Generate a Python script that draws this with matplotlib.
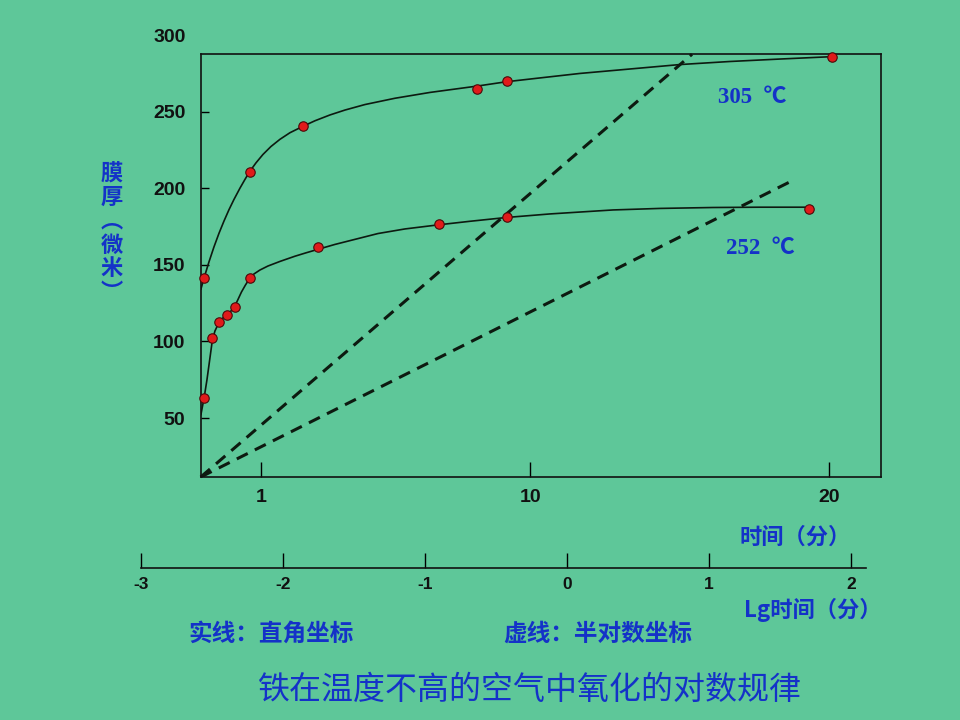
import matplotlib
matplotlib.use("Agg")
import matplotlib.pyplot as plt

BG = "#5ec799"
BLUE = "#1432c8"
INK = "#0d1a10"
CJK = ["Noto Sans CJK SC", "DejaVu Sans"]
NUM = ["Liberation Sans", "DejaVu Sans"]

plt.rcParams["font.family"] = CJK

# measured points: time (min) vs film thickness (um)
t305_pts = [-0.90, 0.62, 2.39, 8.21, 9.21, 20.10]
d305_pts = [141.6, 210.8, 240.6, 264.9, 270.0, 285.4]
t252_pts = [-0.90, -0.64, -0.41, -0.14, 0.11, 0.62, 2.90, 6.94, 9.21, 19.32]
d252_pts = [62.9, 102.4, 112.5, 117.2, 122.3, 141.6, 161.6, 176.4, 181.2, 186.2]

# hand-drawn fit curves, traced along the line on the slide
t305_curve = [-1.013, -0.903, -0.746, -0.579, -0.411, -0.244, -0.077, 0.090,
              0.291, 0.458, 0.615, 0.826, 1.060, 1.328, 1.629, 1.963, 2.388,
              2.799, 3.301, 3.803, 4.472, 5.475, 6.645, 8.207, 9.211, 10.157,
              11.662, 13.334, 15.007, 16.679, 18.351, 20.023]
d305_curve = [134.2, 141.8, 151.8, 161.6, 170.5, 178.5, 185.9, 192.6,
              200.0, 205.7, 210.8, 216.5, 222.0, 227.2, 231.9, 236.2, 240.3,
              244.0, 247.8, 251.0, 254.6, 258.7, 262.5, 266.6, 269.5, 271.6,
              274.9, 277.8, 280.7, 282.7, 284.3, 285.8]
t252_curve = [-1.013, -0.903, -0.813, -0.712, -0.635, -0.545, -0.411, -0.278,
              -0.144, -0.010, 0.114, 0.224, 0.341, 0.475, 0.615, 0.759, 0.960,
              1.227, 1.629, 2.130, 2.498, 2.900, 3.468, 4.137, 4.906, 5.809,
              6.936, 7.983, 9.211, 10.659, 12.766, 14.338, 16.110, 17.682, 19.187]
d252_curve = [52.3, 63.7, 74.8, 89.2, 100.3, 106.8, 112.3, 115.3,
              117.6, 119.8, 122.8, 127.3, 132.2, 136.8, 141.1, 144.0, 146.6,
              149.2, 152.2, 155.6, 157.8, 160.1, 163.3, 166.6, 170.4, 173.4,
              176.1, 178.4, 180.9, 183.2, 185.8, 186.8, 187.4, 187.6, 187.6]

# dashed lines (semi-log version, drawn on the same frame)
dash305_t = [-1.02, 15.41]
dash305_d = [11.5, 287.4]
dash252_t = [-1.02, 18.66]
dash252_d = [11.5, 203.9]

xticks = [1, 10, 20]
yticks = [50, 100, 150, 200, 250]
lg_ticks = [-3, -2, -1, 0, 1, 2]
lg_labels = ["-3", "-2", "-1", "0", "1", "2"]

fig = plt.figure(figsize=(9.6, 7.2), dpi=100, facecolor=BG)

ax = fig.add_axes([0.2091, 0.3375, 0.7086, 0.5871])
ax.set_facecolor(BG)
ax.set_xlim(-1.02, 21.73)
ax.set_ylim(11.5, 287.4)

ax.plot(t305_curve, d305_curve, color=INK, lw=1.2, solid_joinstyle="round")
ax.plot(t252_curve, d252_curve, color=INK, lw=1.2, solid_joinstyle="round")
ax.plot(dash305_t, dash305_d, color=INK, lw=2.2, ls=(0, (4, 2.6)), clip_on=False)
ax.plot(dash252_t, dash252_d, color=INK, lw=2.2, ls=(0, (4, 2.6)))
for tt, dd in [(t305_pts, d305_pts), (t252_pts, d252_pts)]:
    ax.plot(tt, dd, ls="none", marker="o", ms=6.8, mfc="#e01a1a",
            mec="#4a0a0a", mew=0.8, clip_on=False, zorder=5)

for sp in ax.spines.values():
    sp.set_color("#111111")
    sp.set_linewidth(1.2)

ax.set_xticks(xticks)
ax.set_xticklabels([str(v) for v in xticks])
ax.set_yticks(yticks)
ax.set_yticklabels([str(v) for v in yticks])
ax.tick_params(axis="x", direction="in", length=11, width=1.0, pad=9, labelsize=14)
ax.tick_params(axis="y", direction="in", length=6, width=1.0, pad=11, labelsize=14)
for lab in ax.get_xticklabels() + ax.get_yticklabels():
    lab.set_family(NUM)
    lab.set_weight("bold")
    lab.set_color("#111111")

# 300 sits above the frame on the slide
ax.annotate("300", xy=(0, 300), xycoords=ax.get_yaxis_transform(),
            xytext=(-11, -2), textcoords="offset points", ha="right", va="center",
            fontsize=14, fontweight="bold", family=NUM, color="#111111",
            annotation_clip=False)

serif = ["Liberation Serif", "Noto Sans CJK SC"]
ax.text(17.41, 258.9, "305  ℃", color=BLUE, fontsize=16.5, fontweight="bold",
        ha="center", va="center", family=serif)
ax.text(17.69, 160.9, "252  ℃", color=BLUE, fontsize=16.5, fontweight="bold",
        ha="center", va="center", family=serif)

# lower axis: lg time
ax2 = fig.add_axes([0.1466, 0.2107, 0.7555, 0.02])
ax2.set_facecolor("none")
ax2.set_xlim(-2.967, 2.105)
for name in ["top", "left", "right"]:
    ax2.spines[name].set_visible(False)
ax2.spines["bottom"].set_color("#111111")
ax2.spines["bottom"].set_linewidth(1.2)
ax2.set_yticks([])
ax2.set_xticks(lg_ticks)
ax2.set_xticklabels(lg_labels)
ax2.tick_params(axis="x", direction="in", length=11, width=1.0, pad=6, labelsize=12.5)
for lab in ax2.get_xticklabels():
    lab.set_family(NUM)
    lab.set_weight("bold")
    lab.set_color("#111111")

# labels
fig.text(0.1167, 0.676, "膜\n厚\n︵\n微\n米\n︶", color=BLUE, fontsize=16,
         ha="center", va="center", linespacing=1.04, fontweight="bold")
fig.text(0.828, 0.2542, "时间（分）", color=BLUE, fontsize=16, fontweight="bold",
         ha="center", va="center")
fig.text(0.847, 0.1528, "Lg时间（分）", color=BLUE, fontsize=16, fontweight="bold",
         ha="center", va="center")
fig.text(0.2828, 0.1194, "实线：直角坐标", color=BLUE, fontsize=17, fontweight="bold",
         ha="center", va="center")
fig.text(0.6229, 0.1194, "虚线：半对数坐标", color=BLUE, fontsize=17, fontweight="bold",
         ha="center", va="center")
fig.text(0.552, 0.0417, "铁在温度不高的空气中氧化的对数规律", color=BLUE, fontsize=23,
         ha="center", va="center")

fig.savefig("out.png", dpi=100, facecolor=BG)
